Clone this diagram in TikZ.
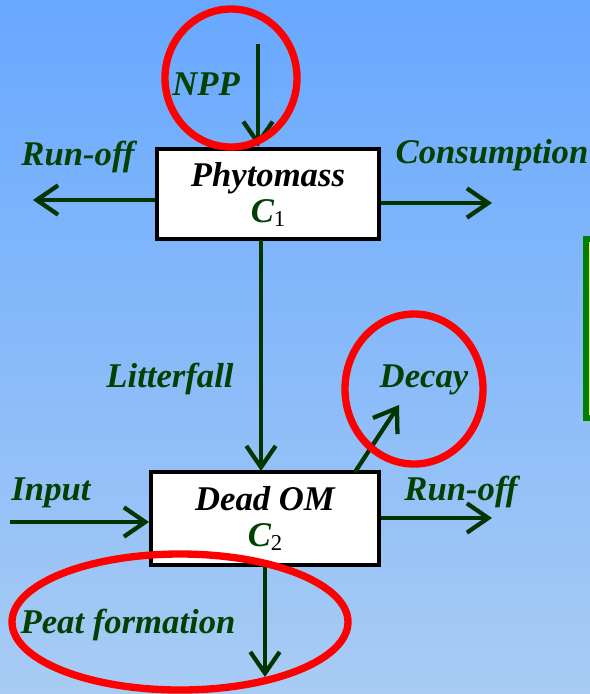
\documentclass[tikz,border=0pt]{standalone}
\usepackage{fontspec}
\setmainfont{Liberation Serif}
\usetikzlibrary{arrows.meta}
\definecolor{skytop}{RGB}{104,168,255}
\definecolor{skybot}{RGB}{168,204,244}
\definecolor{flowgreen}{RGB}{0,52,0}
\definecolor{labgreen}{RGB}{0,64,0}
\definecolor{noteedge}{RGB}{0,128,0}
\definecolor{notefill}{RGB}{255,255,110}
\tikzset{
  pool/.style={draw=black, line width=3pt, fill=white, align=center,
    font=\fontsize{26pt}{27pt}\selectfont\bfseries\itshape},
  flow/.style={draw=flowgreen, line width=3.2pt,
    -{Straight Barb[length=16pt,width=22pt]}},
  lab/.style={anchor=base, text=labgreen,
    font=\fontsize{26pt}{27pt}\selectfont\bfseries\itshape},
  ring/.style={draw=red, line width=5.5pt},
}
\newcommand{\pooltag}[1]{\textcolor{labgreen}{C}{\fontsize{17pt}{17pt}\selectfont\mdseries\upshape\raisebox{-3pt}{#1}}}
\begin{document}
\begin{tikzpicture}[x=0.75pt,y=-0.75pt]
  \useasboundingbox (0,0) rectangle (590,694);
  \clip (0,0) rectangle (590,694);
  % sky background
  \shade[top color=skytop, bottom color=skybot] (0,0) rectangle (590,694);
  % note box at the right edge
  \draw[draw=noteedge, fill=notefill, line width=5pt] (586,239) rectangle (610,418);

  % pools
  \node[pool, minimum width=167pt, minimum height=68pt] (phyto) at (268,194) {Phytomass\\\pooltag{1}};
  \node[pool, minimum width=171pt, minimum height=70pt] (dead) at (265,518.5) {Dead OM\\\pooltag{2}};

  % free ends of the flows
  \coordinate (npptop) at (258,44);
  \coordinate (roL) at (33,200);
  \coordinate (consE) at (492,203);
  \coordinate (inW) at (10,522);
  \coordinate (roR) at (492,518);
  \coordinate (decayE) at (399,405);
  \coordinate (peatE) at (265,677);

  % flows
  \draw[flow] (npptop) -- (npptop |- phyto.north);
  \draw[flow] (phyto.west |- roL) -- (roL);
  \draw[flow] (phyto.east |- consE) -- (consE);
  \draw[flow] (261,240) -- (261,471);
  \draw[flow] (inW) -- (dead.west |- inW);
  \draw[flow] (dead.east |- roR) -- (roR);
  \draw[flow] (355,472) -- (decayE);
  \draw[flow] (dead.south -| peatE) -- (peatE);

  % labels
  \node[lab] (lnpp) at (206,95) {NPP};
  \node[lab] (lrol) at (78,165) {Run-off};
  \node[lab] (lcons) at (492,163) {Consumption};
  \node[lab] (llit) at (170,387) {Litterfall};
  \node[lab] (ldec) at (424,387) {Decay};
  \node[lab] (linp) at (51,500) {Input};
  \node[lab] (lror) at (461,500) {Run-off};
  \node[lab] (lpeat) at (128,633) {Peat formation};

  % highlight rings
  \draw[ring] (231,78) ellipse [x radius=66, y radius=69];
  \draw[ring] (414,389) ellipse [x radius=69, y radius=75];
  \draw[ring] (180,622) ellipse [x radius=168, y radius=68];
\end{tikzpicture}
\end{document}
